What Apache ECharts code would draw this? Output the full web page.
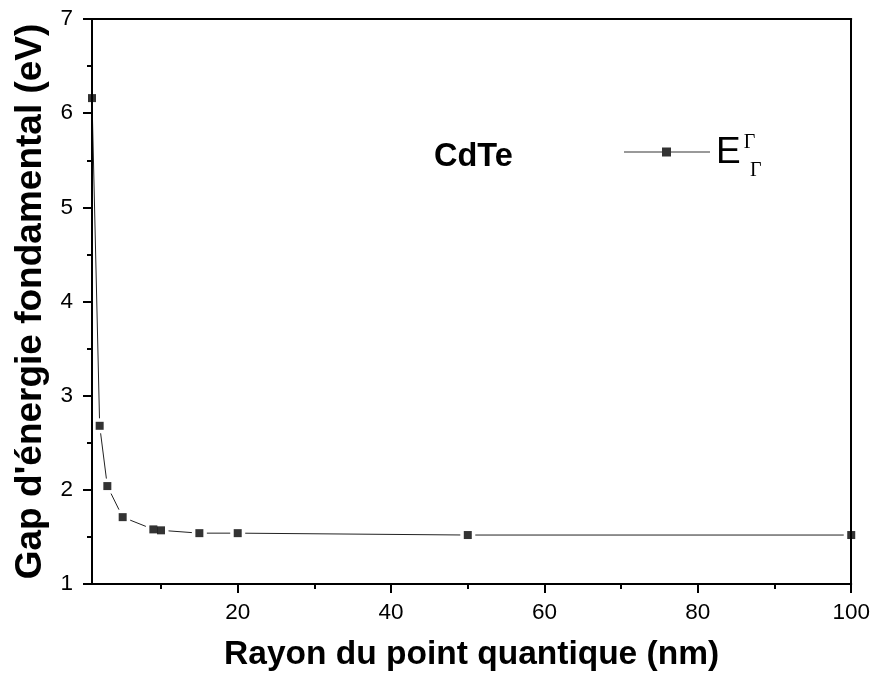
<!DOCTYPE html>
<html>
<head>
<meta charset="utf-8">
<script src="https://cdn.jsdelivr.net/npm/echarts@6/dist/echarts.min.js"></script>
<style>
  html, body { margin: 0; padding: 0; background: #fff; }
  #chart { width: 873px; height: 679px; }
</style>
</head>
<body>
<div id="chart"></div>
<script>
// Quantum dot radius (nm) and fundamental gap (eV) for CdTe
const radius = [1, 2, 3, 5, 9, 10, 15, 20, 50, 100];
const gap = [6.16, 2.68, 2.04, 1.71, 1.58, 1.57, 1.54, 1.54, 1.52, 1.52];
const xMajorTicks = [20, 40, 60, 80, 100];
const xMinorTicks = [10, 30, 50, 70, 90];
const seriesName = 'EΓΓ';

const points = radius.map((r, i) => [r, gap[i]]);
const FONT = '"Liberation Sans", Arial, sans-serif';
const SERIF = '"Liberation Serif", "Times New Roman", serif';

const chart = echarts.init(document.getElementById('chart'));

chart.setOption({
  animation: false,
  backgroundColor: '#fff',
  grid: { left: 92, right: 21, top: 19, bottom: 95, containLabel: false },
  title: {
    text: 'CdTe',
    left: 429,
    top: 136,
    textStyle: { fontFamily: FONT, fontWeight: 'bold', fontSize: 32.5, color: '#000' }
  },
  legend: {
    left: 619,
    top: 128,
    itemWidth: 86,
    itemHeight: 9,
    data: [{
      name: seriesName,
      icon: 'path://M0,4H38V0H47V4H86V5H47V9H38V5H0Z',
      itemStyle: { color: '#000' }
    }],
    formatter: () => '{e|E}{sup|Γ}',
    textStyle: {
      color: '#000',
      rich: {
        e: { fontFamily: FONT, fontSize: 37, color: '#000', padding: [0, 0, 0, 1], lineHeight: 38, verticalAlign: 'bottom' },
        sup: { fontFamily: SERIF, fontSize: 20, color: '#000', verticalAlign: 'top', lineHeight: 38, padding: [0, 0, 0, 3] }
      }
    }
  },
  graphic: [{
    type: 'text',
    left: 750,
    top: 161,
    style: { text: 'Γ', fontFamily: SERIF, fontSize: 20, fill: '#000' }
  }],
  xAxis: [{
    type: 'value',
    min: 1,
    max: 100,
    position: 'bottom',
    z: 5,
    name: 'Rayon du point quantique (nm)',
    nameLocation: 'middle',
    nameGap: 54,
    nameTextStyle: { fontFamily: FONT, fontWeight: 'bold', fontSize: 33.5, color: '#000' },
    axisLine: { onZero: false, lineStyle: { color: '#000', width: 2 } },
    axisTick: { show: true, length: 9, customValues: xMajorTicks, lineStyle: { color: '#000', width: 2 } },
    axisLabel: { customValues: xMajorTicks, margin: 17, fontFamily: FONT, fontSize: 22.5, color: '#000' },
    splitLine: { show: false }
  }, {
    type: 'value',
    min: 1,
    max: 100,
    position: 'bottom',
    z: 5,
    axisLine: { show: false },
    axisTick: { show: true, length: 5, customValues: xMinorTicks, lineStyle: { color: '#000', width: 2 } },
    axisLabel: { show: false },
    splitLine: { show: false }
  }, {
    type: 'value',
    min: 1,
    max: 100,
    position: 'top',
    z: 5,
    axisLine: { onZero: false, lineStyle: { color: '#000', width: 2 } },
    axisTick: { show: false },
    axisLabel: { show: false },
    splitLine: { show: false }
  }],
  yAxis: [{
    type: 'value',
    min: 1,
    max: 7,
    interval: 1,
    position: 'left',
    z: 5,
    name: "Gap d'énergie fondamental (eV)",
    nameLocation: 'middle',
    nameGap: 37,
    nameTextStyle: { fontFamily: FONT, fontWeight: 'bold', fontSize: 37, color: '#000' },
    axisLine: { onZero: false, lineStyle: { color: '#000', width: 2 } },
    axisTick: { show: true, length: 9, lineStyle: { color: '#000', width: 2 } },
    minorTick: { show: true, splitNumber: 2, length: 5, lineStyle: { color: '#000', width: 2 } },
    axisLabel: { margin: 19, fontFamily: FONT, fontSize: 22.5, color: '#000' },
    splitLine: { show: false }
  }, {
    type: 'value',
    min: 1,
    max: 7,
    interval: 1,
    position: 'right',
    z: 5,
    axisLine: { onZero: false, lineStyle: { color: '#000', width: 2 } },
    axisTick: { show: false },
    axisLabel: { show: false },
    splitLine: { show: false }
  }],
  series: [{
    // connecting line with white pads that leave a small gap round each marker
    name: 'line',
    type: 'line',
    data: points,
    xAxisIndex: 0,
    yAxisIndex: 0,
    symbol: 'rect',
    symbolSize: 15,
    itemStyle: { color: '#fff' },
    lineStyle: { color: '#222', width: 1 },
    silent: true,
    z: 2
  }, {
    name: seriesName,
    type: 'scatter',
    data: points,
    xAxisIndex: 0,
    yAxisIndex: 0,
    symbol: 'rect',
    symbolSize: 8,
    itemStyle: { color: '#000' },
    z: 3
  }]
});
</script>
</body>
</html>
